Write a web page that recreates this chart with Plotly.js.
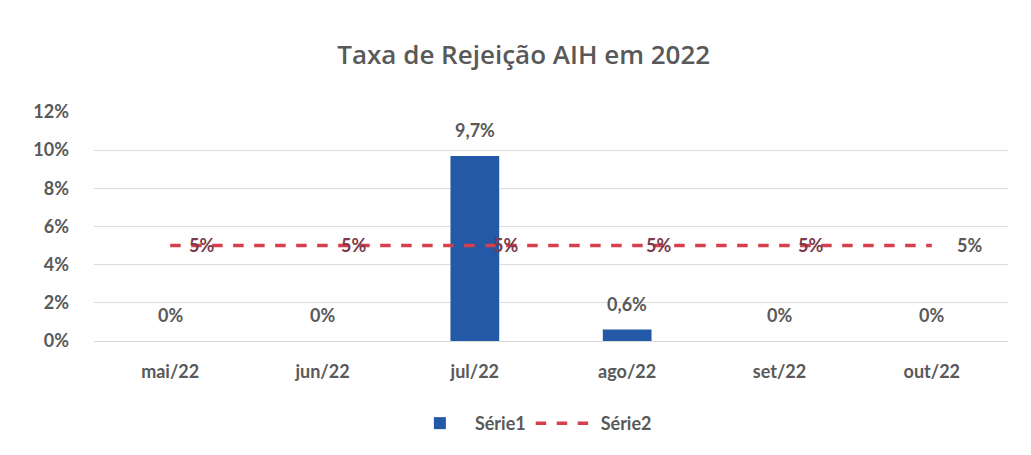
<!DOCTYPE html>
<html><head><meta charset="utf-8">
<script src="https://cdn.plot.ly/plotly-3.0.1.min.js"></script>
<style>html,body{margin:0;padding:0;background:#fff;}#chart{width:1031px;height:455px;}</style>
</head><body><div id="chart"></div>
<script>
const categories = ["mai/22","jun/22","jul/22","ago/22","set/22","out/22"];
const serie1 = [0, 0, 9.7, 0.6, 0, 0];
const serie1Labels = ["0%","0%","9,7%","0,6%","0%","0%"];
const serie2 = [5, 5, 5, 5, 5, 5];
const serie2Labels = ["5%","5%","5%","5%","5%","5%"];
const yTicks = [0,2,4,6,8,10,12];
const yTickText = ["0%","2%","4%","6%","8%","10%","12%"];

const font = "Lato, 'Open Sans', sans-serif";
const grey = "#595959";
const lblFont = {family:font, size:18, color:grey, weight:"bold"};

const traces = [
  {type:"bar", name:"Série1", x:categories, y:serie1, marker:{color:"#2359a6"}, width:0.32, hoverinfo:"skip"},
  {type:"scatter", mode:"lines", name:"Série2", x:categories, y:serie2,
   line:{color:"#d6404e", width:3.5, dash:"dash"}, hoverinfo:"skip"}
];

const annotations = categories.map((c,i)=>({x:c, y:serie1[i], xref:"x", yref:"y", text:serie1Labels[i],
  showarrow:false, yanchor:"middle", yshift:26, font:lblFont}))
  .concat(categories.map((c,i)=>({x:c, y:serie2[i], xref:"x", yref:"y", text:serie2Labels[i],
  showarrow:false, xanchor:"center", yanchor:"middle", xshift:(i===categories.length-1?38:31), yshift:1,
  font:{family:font, size:18, color:(i===categories.length-1?grey:"#7a3a48"), weight:"bold"}})));

const layout = {
  width:1031, height:455,
  margin:{l:94, r:23, t:112, b:114},
  paper_bgcolor:"#fff", plot_bgcolor:"#fff",
  title:{text:"Taxa de Rejeição AIH em 2022", x:0.508, xanchor:"center", y:0.88, yanchor:"middle",
    font:{family:"'Open Sans', Lato, sans-serif", size:26, color:grey, weight:600}},
  xaxis:{type:"category", showgrid:false, showline:true, linecolor:"#d9d9d9", ticks:"",
    ticklabelstandoff:14, tickfont:lblFont, fixedrange:true},
  yaxis:{range:[0,12], tickvals:yTicks, ticktext:yTickText, showgrid:true, gridcolor:"#dcdcdc",
    zeroline:false, showline:false, ticks:"", ticklabelstandoff:24,
    tickfont:lblFont},
  showlegend:true,
  legend:{orientation:"h", x:0.478, xanchor:"center", y:-0.36, yanchor:"middle",
    itemwidth:60, font:lblFont},
  annotations:annotations,
  bargap:0.68
};
Plotly.newPlot("chart", traces, layout, {displayModeBar:false, staticPlot:true});
</script></body></html>
